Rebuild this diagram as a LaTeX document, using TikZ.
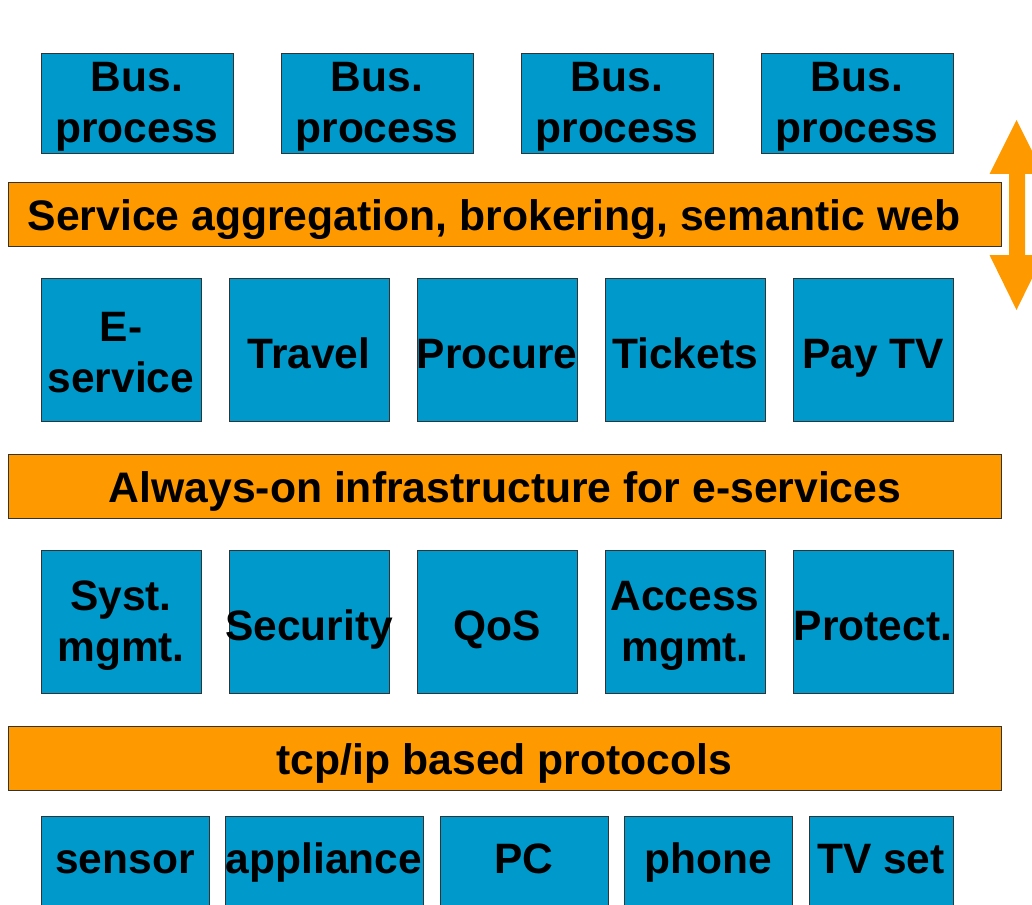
\documentclass[tikz,border=0pt]{standalone}
\usepackage{fontspec}
\setmainfont{Liberation Sans}
\definecolor{boxblue}{HTML}{0099CC}
\definecolor{barorange}{HTML}{FF9900}
\definecolor{edge}{HTML}{333333}
\begin{document}
\begin{tikzpicture}[x=1pt,y=-1pt,
  blk/.style={draw=edge, line width=1pt, fill=boxblue, inner sep=0pt, outer sep=0pt, anchor=north west},
  bar/.style={draw=edge, line width=1pt, fill=barorange, inner sep=0pt, outer sep=0pt, anchor=north west, minimum width=993pt, minimum height=64pt},
  lbl/.style={font=\fontsize{42.5}{51}\selectfont\bfseries, align=center, inner sep=0pt},
  barlbl/.style={font=\fontsize{42.7}{49}\selectfont\bfseries, inner sep=0pt, anchor=base}]
\useasboundingbox (0,0) rectangle (1032,904);
\clip (0,0) rectangle (1032,904);
% double arrow
\fill[barorange] (1016.5,120) -- (1043.5,174) -- (1025,174) -- (1025,255) -- (1043.5,255) -- (1016.5,310) -- (989.5,255) -- (1009,255) -- (1009,174) -- (989.5,174) -- cycle;
% row 1
\foreach \i/\x in {1/41,2/281,3/521,4/761}{
  \node[blk, minimum width=192pt, minimum height=100pt] (bp\i) at (\x,54) {};
  \node[lbl] (bpt\i) at ([yshift=-3pt]bp\i.center) {Bus.\\process};
}
% bar 1
\node[bar] (agg) at (8,182) {};
\node[barlbl] (aggt) at (494,230) {Service aggregation, brokering, semantic web};
% row 2
\node[blk, minimum width=160pt, minimum height=143pt] (sv1) at (41,278) {};
\node[lbl] (svt1) at ([yshift=-3.5pt]sv1.center) {E-\\service};
\foreach \i/\x/\t in {2/229/Travel,3/417/Procure,4/605/Tickets,5/793/Pay TV}{
  \node[blk, minimum width=160pt, minimum height=143pt] (sv\i) at (\x,278) {};
  \node[lbl, anchor=base] (svt\i) at (\x+80,368) {\t};
}
% bar 2
\node[bar] (inf) at (8,454) {};
\node[barlbl] (inft) at (505,502) {Always-on infrastructure for e-services};
% row 3
\foreach \i/\x/\t in {1/41/{Syst.\\mgmt.},4/605/{Access\\mgmt.}}{
  \node[blk, minimum width=160pt, minimum height=143pt] (mg\i) at (\x,550) {};
  \node[lbl] (mgt\i) at ([yshift=-4pt]mg\i.center) {\t};
}
\foreach \i/\x/\t in {2/229/Security,3/417/QoS,5/793/Protect.}{
  \node[blk, minimum width=160pt, minimum height=143pt] (mg\i) at (\x,550) {};
  \node[lbl, anchor=base] (mgt\i) at (\x+80,640) {\t};
}
% bar 3
\node[bar] (tcp) at (8,726) {};
\node[barlbl] (tcpt) at (504.5,774) {tcp/ip based protocols};
% row 4
\foreach \i/\x/\w/\t in {1/41/168/sensor,2/225/198/appliance,3/440/168/PC,4/624/168/phone,5/809/144/TV set}{
  \node[blk, minimum width=\w pt, minimum height=143pt] (dv\i) at (\x,816) {};
  \node[lbl, anchor=base] (dvt\i) at (\x+\w/2,873) {\t};
}
\end{tikzpicture}
\end{document}
